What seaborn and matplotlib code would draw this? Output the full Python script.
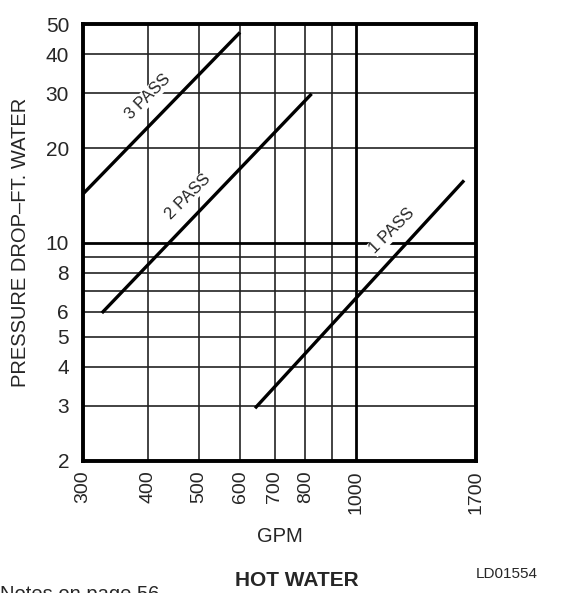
import matplotlib
matplotlib.use("Agg")
import matplotlib.pyplot as plt
import matplotlib.ticker as mticker
import seaborn as sns
import pandas as pd

# pressure drop curves (GPM, ft water)
pass3_gpm = [300, 600]
pass3_drop = [14.3, 47.0]
pass2_gpm = [326, 823]
pass2_drop = [5.95, 29.9]
pass1_gpm = [641, 1613]
pass1_drop = [2.95, 15.8]

x_ticks = [300, 400, 500, 600, 700, 800, 1000, 1700]
x_grid = [400, 500, 600, 700, 800, 900]
y_ticks = [2, 3, 4, 5, 6, 8, 10, 20, 30, 40, 50]
y_grid = [3, 4, 5, 6, 7, 8, 9, 20, 30, 40]

df = pd.concat([
    pd.DataFrame({"gpm": pass3_gpm, "drop": pass3_drop, "curve": "3 PASS"}),
    pd.DataFrame({"gpm": pass2_gpm, "drop": pass2_drop, "curve": "2 PASS"}),
    pd.DataFrame({"gpm": pass1_gpm, "drop": pass1_drop, "curve": "1 PASS"}),
])

sns.set_style("white")
plt.rcParams["font.family"] = ["Liberation Sans", "DejaVu Sans"]

fig = plt.figure(figsize=(5.66, 5.93), dpi=100)
ax = fig.add_axes([83 / 566, 1 - 461 / 593, 393 / 566, 437 / 593])
ax.set_xscale("log")
ax.set_yscale("log")
ax.set_xlim(300, 1700)
ax.set_ylim(2, 50)

for g in x_grid:
    ax.axvline(g, color="#222222", lw=1.2, zorder=1)
for g in y_grid:
    ax.axhline(g, color="#222222", lw=1.2, zorder=1)
ax.axvline(1000, color="black", lw=2.0, zorder=1)
ax.axhline(10, color="black", lw=2.0, zorder=1)

sns.lineplot(data=df, x="gpm", y="drop", units="curve", estimator=None,
             color="black", lw=2.4, ax=ax, legend=False, zorder=3,
             solid_capstyle="butt")

bbox = dict(facecolor="white", edgecolor="none", pad=0.5)
ax.text(399, 29.2, "3 PASS", rotation=45, ha="center", va="center",
        fontsize=12, bbox=bbox, zorder=2)
ax.text(476, 14.0, "2 PASS", rotation=45, ha="center", va="center",
        fontsize=12, bbox=bbox, zorder=2)
ax.text(1175, 10.9, "1 PASS", rotation=45, ha="center", va="center",
        fontsize=12, bbox=bbox, zorder=2)

ax.xaxis.set_major_locator(mticker.FixedLocator(x_ticks))
ax.xaxis.set_minor_locator(mticker.NullLocator())
ax.xaxis.set_major_formatter(mticker.FixedFormatter([str(v) for v in x_ticks]))
ax.yaxis.set_major_locator(mticker.FixedLocator(y_ticks))
ax.yaxis.set_minor_locator(mticker.NullLocator())
ax.yaxis.set_major_formatter(mticker.FixedFormatter([str(v) for v in y_ticks]))
ax.tick_params(axis="x", labelrotation=90, labelsize=14, length=0, pad=7)
ax.tick_params(axis="y", labelsize=15, length=0, pad=10)

for s in ax.spines.values():
    s.set_linewidth(2.8)
    s.set_color("black")
    s.set_visible(True)

ax.set_xlabel("GPM", fontsize=14.5, labelpad=9)
ax.set_ylabel("PRESSURE DROP\u2013FT. WATER", fontsize=14.5, labelpad=11)

fig.text(297 / 566, 1 - 580 / 593, "HOT WATER", ha="center", va="center",
         fontsize=15, fontweight="bold")
fig.text(507 / 566, 1 - 574 / 593, "LD01554", ha="center", va="center",
         fontsize=11)
fig.text(0.0, 1 - 600 / 593, "Notes on page 56", ha="left", va="baseline",
         fontsize=14.5)

plt.savefig("out.png", dpi=100)
plt.close()
